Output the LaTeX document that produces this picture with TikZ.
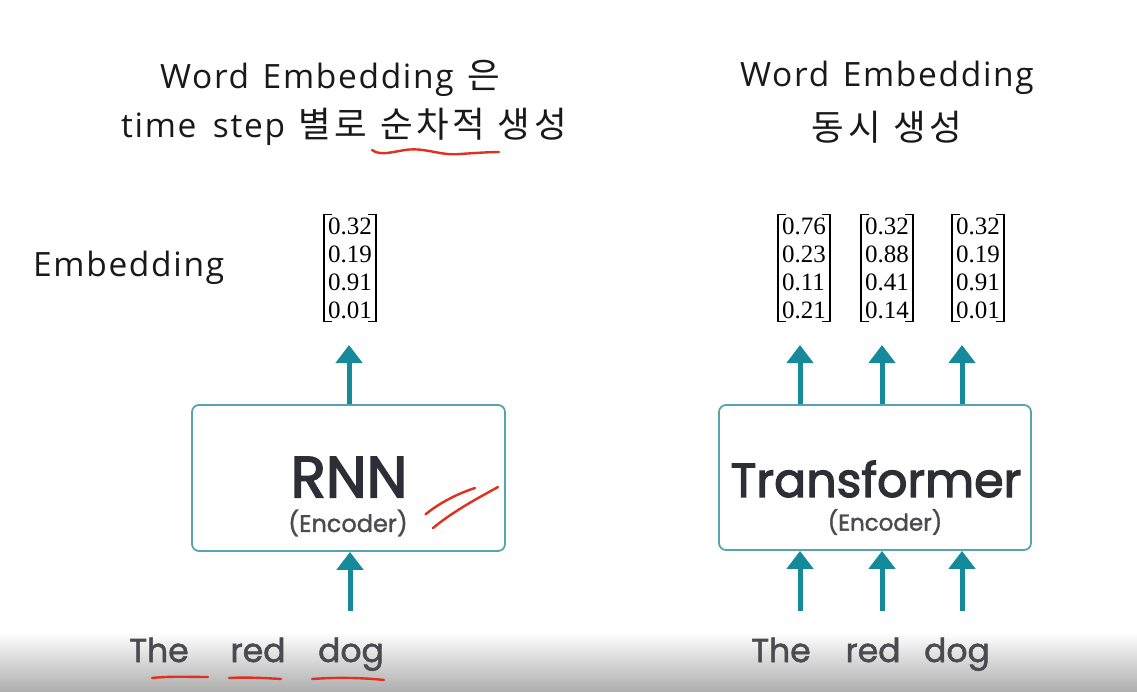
\documentclass[tikz,border=0pt]{standalone}
\usepackage{fontspec}
\usetikzlibrary{arrows.meta}
\newfontfamily\latfont{Open Sans}[LetterSpace=5,WordSpace=1.3]
\newfontfamily\krfont{Noto Sans CJK KR}[Scale=1.06,LetterSpace=10,WordSpace=1.1]
\newfontfamily\geofont{Poppins}[FakeBold=1.6]
\newfontfamily\geoheavy{Poppins}[FakeBold=2.6]
\newfontfamily\numfont{Liberation Serif}
\newcommand\hg[1]{{\krfont #1}}
\definecolor{tealarrow}{HTML}{16899A}
\definecolor{tealbox}{HTML}{55A4AE}
\definecolor{inkdark}{HTML}{2E2E36}
\definecolor{inkgray}{HTML}{4A4A50}
\definecolor{penred}{HTML}{E0301E}
\tikzset{
  x=1pt, y=-1pt,
  title/.style={font=\latfont\fontsize{33.5}{40}\selectfont, text=black!90, inner sep=0},
  encbox/.style={draw=tealbox, line width=1.8pt, rounded corners=7pt, fill=white},
  flow/.style={draw=tealarrow, line width=5pt, -{Triangle[width=26pt,length=18pt]}},
  vecnode/.style={font=\numfont\fontsize{25}{28}\selectfont, inner sep=0, align=left},
  bracket/.style={line width=1.5pt, black},
  word/.style={font=\geofont\fontsize{33}{38}\selectfont, text=inkgray, inner sep=0, anchor=base},
  pen/.style={draw=penred, line width=2.4pt, line cap=round, line join=round},
}
\begin{document}
\begin{tikzpicture}
\useasboundingbox (0,0) rectangle (1137,692);
\fill[white] (0,0) rectangle (1137,692);
% video bar shading at the bottom
\shade[top color=white, bottom color=black!32] (0,632) rectangle (1137,692);

% titles
\node[title] (tl1) at (330,78) {Word Embedding \hg{은}};
\node[title] (tl2) at (344,127) {time\hspace{3pt} step \hg{별로 순차적 생성}};
\node[title] (tr1) at (887,78) {Word Embedding};
\node[title] (tr2) at (887,127) {\hg{동시 생성}};
\node[title, anchor=west] (emb) at (33,268) {Embedding};

% encoder boxes
\node[encbox, minimum width=313pt, minimum height=146pt] (rnn) at (348.5,478) {};
\node[font=\geoheavy\fontsize{58}{60}\selectfont, text=inkdark, inner sep=0] (rnnt) at (349,477) {RNN};
\node[font=\geofont\fontsize{24}{26}\selectfont, text=inkgray, inner sep=0] (rnne) at (348,523) {(Encoder)};

\node[encbox, minimum width=312pt, minimum height=145pt] (tf) at (875,477.5) {};
\node[font=\geoheavy\fontsize{47.5}{52}\selectfont, text=inkdark, inner sep=0] (tft) at (876,479) {Transformer};
\node[font=\geofont\fontsize{23}{26}\selectfont, text=inkgray, inner sep=0] (tfe) at (885,522) {(Encoder)};

% embedding vectors
\node[vecnode] (v0) at (350,268) {0.32\\0.19\\0.91\\0.01};
\node[vecnode] (v1) at (804,268) {0.76\\0.23\\0.11\\0.21};
\node[vecnode] (v2) at (887,268) {0.32\\0.88\\0.41\\0.14};
\node[vecnode] (v3) at (978,268) {0.32\\0.19\\0.91\\0.01};
\foreach \v in {v0,v1,v2,v3}{
  \draw[bracket] ([xshift=4pt,yshift=3pt]\v.north west) -- ([xshift=-4pt,yshift=3pt]\v.north west) -- ([xshift=-4pt,yshift=-3pt]\v.south west) -- ([xshift=4pt,yshift=-3pt]\v.south west);
  \draw[bracket] ([xshift=-4pt,yshift=3pt]\v.north east) -- ([xshift=4pt,yshift=3pt]\v.north east) -- ([xshift=4pt,yshift=-3pt]\v.south east) -- ([xshift=-4pt,yshift=-3pt]\v.south east);
}

% input words
\node[word] (w1) at (159,662) {The};
\node[word] (w2) at (258,662) {red};
\node[word] (w3) at (351,662) {dog};
\node[word] (u1) at (781,662) {The};
\node[word] (u2) at (873,662) {red};
\node[word] (u3) at (957,662) {dog};

% arrows into and out of the encoders
\coordinate (rin) at (350,611);
\coordinate (rout) at (349,345);
\draw[flow] (rin) -- (rin |- rnn.south);
\draw[flow] (rout |- rnn.north) -- (rout);
\foreach \x in {800,882,962}{
  \coordinate (tin\x) at (\x,611);
  \coordinate (tout\x) at (\x,345);
  \draw[flow] (tin\x) -- (tin\x |- tf.south);
  \draw[flow] (tout\x |- tf.north) -- (tout\x);
}

% pen marks
\path[pen] (372,150) .. controls (380,156) and (392,152) .. (405,150) .. controls (425,147) and (440,156) .. (460,154) .. controls (475,153) and (490,152) .. (499,152);
\path[pen] (427,513) .. controls (420,520) and (438,500) .. (475,488);
\path[pen] (433,528) .. controls (455,510) and (480,497) .. (498,487);
\path[pen] (152,678) .. controls (170,676) and (190,677) .. (208,677);
\path[pen] (229,678) .. controls (245,677) and (265,678) .. (281,679);
\path[pen] (312,679) .. controls (340,677) and (365,678) .. (384,680);
\end{tikzpicture}
\end{document}
